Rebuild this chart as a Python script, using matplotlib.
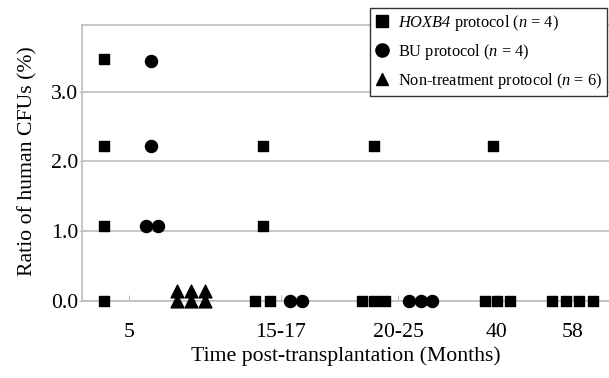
import matplotlib.pyplot as plt
from matplotlib.lines import Line2D

plt.rcParams['font.family'] = ['Liberation Serif', 'DejaVu Serif']
plt.rcParams['mathtext.fontset'] = 'custom'
plt.rcParams['mathtext.rm'] = 'Liberation Serif:italic'
plt.rcParams['mathtext.it'] = 'Liberation Serif:italic'

# Group tick positions and labels (x in arbitrary "slot" units)
tick_pos = [3.5, 14.7, 23.4, 30.7, 36.3]
tick_labels = ['5', '15-17', '20-25', '40', '58']

# HOXB4 protocol
hoxb4_x = [1.6, 1.6, 1.6, 1.6,
           13.4, 13.4, 12.8, 13.9,
           21.6, 20.7, 21.6, 22.4,
           30.4, 29.8, 30.7, 31.7,
           34.8, 35.8, 36.8, 37.8]
hoxb4_y = [3.47, 2.22, 1.07, 0.0,
           2.22, 1.07, 0.0, 0.0,
           2.22, 0.0, 0.0, 0.0,
           2.22, 0.0, 0.0, 0.0,
           0.0, 0.0, 0.0, 0.0]

# BU protocol
bu_x = [5.1, 5.1, 4.7, 5.6,
        15.4, 16.3,
        24.2, 25.1, 25.9]
bu_y = [3.45, 2.22, 1.07, 1.07,
        0.0, 0.0,
        0.0, 0.0, 0.0]

# Non-treatment protocol
nt_x = [7.0, 8.1, 9.1, 7.0, 8.1, 9.1]
nt_y = [0.14, 0.14, 0.14, 0.0, 0.0, 0.0]

grid_c = '#bdbdbd'
fs = 15.7

fig = plt.figure(figsize=(6.09, 3.78), dpi=100)
ax = fig.add_axes([82 / 609, 1 - 300.7 / 378, 527 / 609, 275.7 / 378])

ax.set_xlim(0, 39.0)
ax.set_ylim(0, 3.96)

ax.scatter(hoxb4_x, hoxb4_y, marker='s', s=62, color='black', clip_on=False, zorder=3)
ax.scatter(bu_x, bu_y, marker='o', s=75, color='black', clip_on=False, zorder=3)
ax.scatter(nt_x, nt_y, marker='^', s=85, color='black', clip_on=False, zorder=3)

ax.set_yticks([0, 1, 2, 3])
ax.set_yticklabels(['0.0', '1.0', '2.0', '3.0'])
ax.set_xticks(tick_pos)
ax.set_xticklabels(tick_labels)
ax.yaxis.grid(True, color=grid_c, linewidth=1.2)
ax.set_axisbelow(True)

for side in ['left', 'bottom', 'top']:
    ax.spines[side].set_color(grid_c)
    ax.spines[side].set_linewidth(1.2)
ax.spines['right'].set_visible(False)

ax.tick_params(axis='y', colors=grid_c, labelcolor='black', length=2, labelsize=fs, pad=1)
ax.tick_params(axis='x', colors=grid_c, labelcolor='black', length=4, direction='in',
               labelsize=fs, pad=16)

ax.set_ylabel('Ratio of human CFUs (%)', fontsize=fs)
ax.yaxis.set_label_coords(-0.085, 0.508)
ax.set_xlabel('Time post-transplantation (Months)', fontsize=fs, labelpad=3)

handles = [
    Line2D([], [], marker='s', color='black', ls='none', markersize=8.5),
    Line2D([], [], marker='o', color='black', ls='none', markersize=9.5),
    Line2D([], [], marker='^', color='black', ls='none', markersize=9),
]
labels = [
    r'$HOXB4$ protocol ($n$ = 4)',
    r'BU protocol ($n$ = 4)',
    r'Non-treatment protocol ($n$ = 6)',
]
leg = ax.legend(handles, labels, loc='upper right', bbox_to_anchor=(0.997, 1.062),
                borderaxespad=0, fancybox=False, edgecolor='#333333', framealpha=1,
                fontsize=11.8, handlelength=0.8, handletextpad=0.6,
                labelspacing=0.55, borderpad=0.3)
leg.get_frame().set_linewidth(1.0)

fig.savefig('out.png', dpi=100)
